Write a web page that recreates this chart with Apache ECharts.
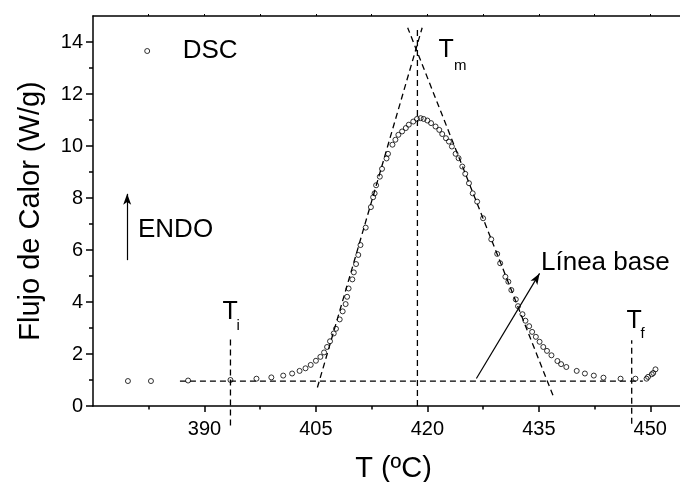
<!DOCTYPE html>
<html><head><meta charset="utf-8">
<script src="https://cdn.jsdelivr.net/npm/echarts@6/dist/echarts.min.js"></script>
<style>html,body{margin:0;padding:0;background:#fff}#c{width:680px;height:482px}</style>
</head><body><div id="c"></div>
<script>
// DSC measured points
const tempC = [379.7,382.8,387.8,393.5,397.0,399.0,400.6,401.8,402.8,403.6,404.3,405.0,405.6,406.1,406.5,406.9,407.4,407.7,408.2,408.6,409.0,409.2,409.4,409.9,410.1,410.4,410.7,411.0,411.7,412.4,412.7,412.9,413.1,413.6,413.9,414.5,414.7,415.3,415.7,416.1,416.6,417.1,417.5,418.1,418.6,419.1,419.5,420.0,420.5,421.1,421.6,422.0,422.5,422.9,423.3,423.8,424.2,424.7,425.1,425.6,426.1,426.7,427.5,428.6,429.4,429.8,430.5,430.9,431.3,431.9,432.2,432.8,433.2,433.7,434.1,434.6,435.1,435.6,436.1,436.7,437.5,438.0,438.7,440.1,441.2,442.4,443.7,446.0,448.0,449.5,449.7,450.2,450.4,450.7];
const heatFlow = [0.96,0.96,0.98,1.00,1.05,1.10,1.17,1.25,1.35,1.45,1.58,1.74,1.89,2.06,2.27,2.49,2.79,2.97,3.33,3.64,3.92,4.20,4.52,4.87,5.14,5.46,5.81,6.19,6.86,7.65,8.03,8.18,8.49,8.82,9.12,9.52,9.70,10.05,10.24,10.43,10.56,10.69,10.82,10.94,11.04,11.07,11.04,10.98,10.88,10.75,10.62,10.46,10.30,10.17,9.98,9.70,9.53,9.21,8.93,8.57,8.18,7.86,7.22,6.41,5.85,5.49,4.97,4.78,4.46,4.10,3.84,3.53,3.28,3.07,2.85,2.66,2.47,2.27,2.12,1.95,1.73,1.61,1.50,1.35,1.25,1.17,1.09,1.05,1.05,1.05,1.12,1.22,1.27,1.41];

// axis ticks
const xMajorTicks = [390,405,420,435,450];
const xMinorTicks = [382.5,397.5,412.5,427.5,442.5];
const yMajorTicks = [0,2,4,6,8,10,12,14];
const yMinorTicks = [1,3,5,7,9,11,13];

// construction lines (data units)
const baselineX = [386.7, 449.0], baselineY = [0.96, 0.96];
const leftTangentX = [405.2, 419.3], leftTangentY = [0.71, 14.55];
const rightTangentX = [436.9, 417.35], rightTangentY = [0.41, 14.55];
const tmLineX = [418.66, 418.66], tmLineY = [0, 14.55];
const tiLineX = [393.5, 393.5], tiLineY = [-0.75, 2.6];
const tfLineX = [447.5, 447.5], tfLineY = [-0.68, 2.53];
const endoArrowX = [379.6, 379.6], endoArrowY = [5.61, 8.16];
const baseArrowX = [426.6, 435.1], baseArrowY = [1.06, 5.1];

const FONT = "'Liberation Sans', Arial, sans-serif";
const pairs = (xs, ys) => xs.map((x, i) => [x, ys[i]]);
const dashed = (xs, ys) => ({
  type: 'line', data: pairs(xs, ys), symbol: 'none', clip: false, silent: true, z: 2,
  lineStyle: { color: '#000', width: 1.3, type: [6, 4] }
});
const arrow = (xs, ys) => ({
  type: 'line', data: [], silent: true,
  markLine: {
    silent: true, symbol: ['none', 'arrow'], symbolSize: [6, 11], label: { show: false },
    lineStyle: { color: '#000', width: 1.2, type: 'solid' },
    data: [[{ coord: [xs[0], ys[0]] }, { coord: [xs[1], ys[1]] }]]
  }
});

const chart = echarts.init(document.getElementById('c'), null, { renderer: 'canvas' });
const axisLineStyle = { color: '#000', width: 1.5 };
chart.setOption({
  animation: false,
  backgroundColor: '#fff',
  textStyle: { fontFamily: FONT },
  grid: { left: 93, right: 0, top: 16, bottom: 76, containLabel: false, outerBoundsMode: 'none' },
  legend: {
    data: ['DSC'], left: 144.2, top: 38, padding: 0, itemWidth: 5, itemHeight: 5, icon: 'circle',
    itemStyle: { color: 'rgba(255,255,255,0)', borderColor: '#000', borderWidth: 1 },
    textStyle: { fontSize: 26, color: '#000', fontFamily: FONT, padding: [0, 0, 0, 28] }
  },
  xAxis: [
    { type: 'value', min: 375, max: 454, position: 'bottom', splitLine: { show: false },
      axisLine: { onZero: false, lineStyle: axisLineStyle },
      axisTick: { customValues: xMajorTicks, length: 6, lineStyle: { width: 1.5, color: '#000' } },
      axisLabel: { customValues: xMajorTicks, fontSize: 20, color: '#000', margin: 13, fontFamily: FONT },
      name: 'T (ºC)', nameLocation: 'middle', nameGap: 48,
      nameTextStyle: { fontSize: 29, color: '#000', fontFamily: FONT, padding: [0, 0, 0, 14] } },
    { type: 'value', min: 375, max: 454, position: 'bottom', splitLine: { show: false },
      axisLine: { show: false }, axisLabel: { show: false },
      axisTick: { customValues: xMinorTicks, length: 3.5, lineStyle: { width: 1.5, color: '#000' } } },
    { type: 'value', min: 375, max: 454, position: 'top', splitLine: { show: false },
      axisLine: { onZero: false, lineStyle: axisLineStyle }, axisLabel: { show: false },
      axisTick: { customValues: xMajorTicks.concat(xMinorTicks), length: 2, lineStyle: { width: 1, color: '#000' } } }
  ],
  yAxis: [
    { type: 'value', min: 0, max: 15, position: 'left', splitLine: { show: false },
      axisLine: { onZero: false, lineStyle: axisLineStyle },
      axisTick: { customValues: yMajorTicks, length: 7, lineStyle: { width: 1.5, color: '#000' } },
      axisLabel: { customValues: yMajorTicks, fontSize: 20, color: '#000', margin: 10, fontFamily: FONT },
      name: 'Flujo de Calor (W/g)', nameLocation: 'middle', nameRotate: 90, nameGap: 48,
      nameTextStyle: { fontSize: 29, color: '#000', fontFamily: FONT } },
    { type: 'value', min: 0, max: 15, position: 'left', splitLine: { show: false },
      axisLine: { show: false }, axisLabel: { show: false },
      axisTick: { customValues: yMinorTicks, length: 4, lineStyle: { width: 1.5, color: '#000' } } }
  ],
  series: [
    dashed(baselineX, baselineY),
    dashed(leftTangentX, leftTangentY),
    dashed(rightTangentX, rightTangentY),
    dashed(tmLineX, tmLineY),
    dashed(tiLineX, tiLineY),
    dashed(tfLineX, tfLineY),
    arrow(endoArrowX, endoArrowY),
    arrow(baseArrowX, baseArrowY),
    { name: 'DSC', type: 'scatter', data: pairs(tempC, heatFlow), symbol: 'circle', symbolSize: 5, z: 5,
      itemStyle: { color: 'rgba(255,255,255,0)', borderColor: '#000', borderWidth: 1 } }
  ],
  graphic: [
    { type: 'text', x: 138, y: 229.7, style: { text: 'ENDO', font: '26px ' + FONT, fill: '#000', verticalAlign: 'middle' } },
    { type: 'text', x: 541, y: 262.6, style: { text: 'Línea base', font: '26px ' + FONT, fill: '#000', verticalAlign: 'middle' } },
    { type: 'text', x: 222.5, y: 312.2, style: { text: 'T', font: '25px ' + FONT, fill: '#000', verticalAlign: 'middle' } },
    { type: 'text', x: 236.5, y: 325.4, style: { text: 'i', font: '15px ' + FONT, fill: '#000', verticalAlign: 'middle' } },
    { type: 'text', x: 438.5, y: 50.5, style: { text: 'T', font: '25px ' + FONT, fill: '#000', verticalAlign: 'middle' } },
    { type: 'text', x: 454, y: 65.4, style: { text: 'm', font: '15px ' + FONT, fill: '#000', verticalAlign: 'middle' } },
    { type: 'text', x: 626.5, y: 321.2, style: { text: 'T', font: '25px ' + FONT, fill: '#000', verticalAlign: 'middle' } },
    { type: 'text', x: 640.5, y: 333.4, style: { text: 'f', font: '15px ' + FONT, fill: '#000', verticalAlign: 'middle' } }
  ]
});
</script></body></html>
